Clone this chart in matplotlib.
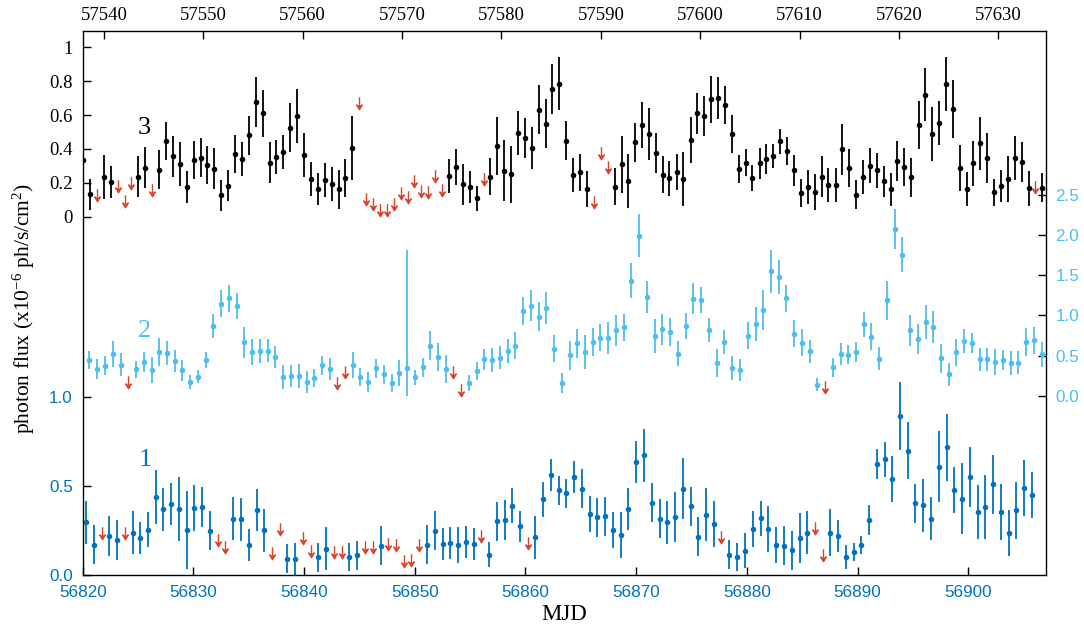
import numpy as np
import matplotlib
matplotlib.use("Agg")
import matplotlib.pyplot as plt
from matplotlib.path import Path

# ---- light curve 1 (bottom, MJD 56820-56907) ----
t1 = [56820.30, 56820.99, 56822.41, 56823.10, 56824.52, 56825.21, 56825.90, 56826.60, 56827.29, 56827.98,
      56828.71, 56829.40, 56830.09, 56830.81, 56831.51, 56833.62, 56834.31, 56835.01, 56835.73, 56836.42,
      56838.50, 56839.20, 56841.30, 56842.00, 56844.10, 56844.80, 56846.91, 56851.10, 56851.79, 56852.51,
      56853.21, 56853.91, 56854.63, 56855.32, 56856.71, 56857.40, 56858.12, 56858.82, 56859.51, 56860.90,
      56861.62, 56862.31, 56863.00, 56863.70, 56864.42, 56865.12, 56865.81, 56866.50, 56867.22, 56867.92,
      56868.61, 56869.30, 56870.02, 56870.72, 56871.41, 56872.11, 56872.80, 56873.53, 56874.21, 56874.92,
      56875.63, 56876.33, 56877.02, 56878.41, 56879.13, 56879.82, 56880.54, 56881.24, 56881.93, 56882.65,
      56883.35, 56884.04, 56884.76, 56885.46, 56887.54, 56888.23, 56888.95, 56889.65, 56890.34, 56891.03,
      56891.73, 56892.45, 56893.14, 56893.84, 56894.53, 56895.23, 56895.95, 56896.64, 56897.36, 56898.06,
      56898.75, 56899.44, 56900.16, 56900.86, 56901.55, 56902.24, 56902.97, 56903.66, 56904.36, 56905.05,
      56905.77]
f1 = [0.296, 0.169, 0.219, 0.197, 0.238, 0.206, 0.255, 0.438, 0.369, 0.399,
      0.369, 0.253, 0.376, 0.382, 0.249, 0.316, 0.313, 0.170, 0.365, 0.251,
      0.092, 0.092, 0.099, 0.148, 0.101, 0.110, 0.165, 0.170, 0.249, 0.172,
      0.178, 0.169, 0.183, 0.172, 0.114, 0.301, 0.309, 0.390, 0.273, 0.212,
      0.425, 0.560, 0.476, 0.459, 0.549, 0.485, 0.343, 0.324, 0.330, 0.253,
      0.223, 0.371, 0.635, 0.672, 0.406, 0.316, 0.296, 0.326, 0.485, 0.386,
      0.215, 0.339, 0.287, 0.114, 0.101, 0.137, 0.257, 0.318, 0.258, 0.167,
      0.165, 0.139, 0.208, 0.238, 0.238, 0.221, 0.101, 0.127, 0.169, 0.307,
      0.622, 0.650, 0.539, 0.892, 0.699, 0.404, 0.392, 0.316, 0.609, 0.717,
      0.476, 0.429, 0.551, 0.354, 0.384, 0.509, 0.354, 0.234, 0.363, 0.489,
      0.449]
e1 = [0.12, 0.11, 0.11, 0.11, 0.12, 0.09, 0.10, 0.15, 0.12, 0.12,
      0.18, 0.22, 0.13, 0.11, 0.11, 0.12, 0.12, 0.09, 0.12, 0.12,
      0.08, 0.09, 0.08, 0.12, 0.08, 0.08, 0.11, 0.11, 0.11, 0.09,
      0.09, 0.10, 0.09, 0.09, 0.07, 0.11, 0.11, 0.10, 0.085, 0.12,
      0.10, 0.09, 0.08, 0.08, 0.09, 0.11, 0.10, 0.11, 0.11, 0.10,
      0.13, 0.12, 0.12, 0.15, 0.11, 0.11, 0.12, 0.14, 0.17, 0.11,
      0.11, 0.15, 0.13, 0.08, 0.08, 0.10, 0.10, 0.10, 0.13, 0.10,
      0.11, 0.11, 0.14, 0.12, 0.13, 0.09, 0.065, 0.05, 0.05, 0.085,
      0.085, 0.10, 0.13, 0.19, 0.16, 0.11, 0.15, 0.12, 0.20, 0.19,
      0.13, 0.20, 0.17, 0.15, 0.18, 0.165, 0.16, 0.13, 0.16, 0.155,
      0.13]
t1_ul = [56821.72, 56823.80, 56832.20, 56832.89, 56837.12, 56837.81, 56839.92, 56840.62, 56842.72, 56843.42,
         56845.52, 56846.22, 56847.60, 56848.30, 56848.99, 56849.68, 56850.38, 56856.01, 56860.20, 56877.71,
         56886.15, 56886.84]
f1_ul = [0.234, 0.238, 0.197, 0.159, 0.122, 0.257, 0.208, 0.137, 0.131, 0.131,
         0.155, 0.155, 0.176, 0.169, 0.077, 0.084, 0.169, 0.217, 0.180, 0.212,
         0.266, 0.110]

# ---- light curve 2 (middle, days from start) ----
t2 = [0.60, 1.32, 2.05, 2.74, 3.44, 4.82, 5.54, 6.24, 6.93, 7.62,
      8.32, 9.01, 9.73, 10.42, 11.12, 11.81, 12.50, 13.20, 13.92, 14.61,
      15.31, 16.03, 16.73, 17.41, 18.11, 18.83, 19.53, 20.22, 20.91, 21.61,
      22.30, 24.38, 25.07, 25.80, 26.49, 27.18, 27.90, 28.60, 29.29, 29.98,
      30.71, 31.40, 32.10, 32.79, 34.90, 35.59, 36.28, 36.98, 37.70, 38.39,
      39.09, 39.78, 40.47, 41.19, 41.89, 42.59, 43.27, 44.00, 44.69, 45.39,
      46.08, 46.77, 47.50, 48.19, 48.88, 49.58, 50.30, 50.99, 51.68, 52.38,
      53.07, 53.80, 54.49, 55.18, 55.88, 56.56, 57.29, 57.98, 58.68, 59.37,
      60.06, 60.79, 61.48, 62.17, 62.87, 63.56, 64.25, 64.97, 65.67, 66.37,
      67.78, 68.47, 69.17, 69.86, 70.55, 71.25, 71.94, 72.63, 73.36, 74.05,
      74.74, 75.44, 76.16, 76.85, 77.54, 78.24, 78.93, 79.66, 80.34, 81.04,
      81.74, 82.46, 83.15, 83.84, 84.54, 85.23, 85.92, 86.65]
f2 = [0.448, 0.332, 0.373, 0.523, 0.386, 0.328, 0.419, 0.320, 0.544, 0.531,
      0.432, 0.316, 0.174, 0.237, 0.440, 0.863, 1.145, 1.212, 1.120, 0.664,
      0.548, 0.560, 0.560, 0.482, 0.229, 0.245, 0.245, 0.170, 0.220, 0.378,
      0.332, 0.386, 0.229, 0.170, 0.340, 0.266, 0.162, 0.282, 0.340, 0.229,
      0.353, 0.623, 0.482, 0.332, 0.158, 0.307, 0.453, 0.440, 0.473, 0.552,
      0.623, 1.054, 1.120, 0.983, 1.091, 0.585, 0.154, 0.502, 0.652, 0.548,
      0.668, 0.722, 0.722, 0.814, 0.851, 1.431, 1.991, 1.232, 0.739, 0.826,
      0.793, 0.523, 0.871, 1.207, 1.191, 0.821, 0.407, 0.672, 0.340, 0.320,
      0.747, 0.896, 1.067, 1.548, 1.473, 1.212, 0.772, 0.660, 0.552, 0.137,
      0.353, 0.515, 0.511, 0.548, 0.888, 0.734, 0.461, 1.187, 2.079, 1.755,
      0.814, 0.706, 0.913, 0.859, 0.465, 0.266, 0.540, 0.681, 0.656, 0.453,
      0.453, 0.415, 0.444, 0.407, 0.411, 0.668, 0.689, 0.515]
e2 = [0.11, 0.12, 0.12, 0.16, 0.14, 0.11, 0.125, 0.16, 0.18, 0.15,
      0.14, 0.13, 0.085, 0.085, 0.10, 0.15, 0.17, 0.17, 0.16, 0.19,
      0.16, 0.15, 0.145, 0.135, 0.15, 0.135, 0.155, 0.14, 0.11, 0.12,
      0.14, 0.16, 0.11, 0.12, 0.12, 0.12, 0.11, 0.16, 1.47, 0.09,
      0.12, 0.18, 0.17, 0.17, 0.10, 0.11, 0.13, 0.15, 0.14, 0.15,
      0.17, 0.175, 0.19, 0.18, 0.195, 0.17, 0.125, 0.18, 0.18, 0.21,
      0.18, 0.17, 0.20, 0.19, 0.17, 0.215, 0.27, 0.20, 0.21, 0.19,
      0.18, 0.155, 0.16, 0.195, 0.165, 0.15, 0.18, 0.15, 0.15, 0.14,
      0.17, 0.21, 0.25, 0.265, 0.21, 0.165, 0.17, 0.17, 0.145, 0.08,
      0.115, 0.135, 0.12, 0.125, 0.155, 0.17, 0.145, 0.24, 0.25, 0.22,
      0.19, 0.19, 0.21, 0.20, 0.18, 0.145, 0.165, 0.155, 0.13, 0.14,
      0.14, 0.16, 0.13, 0.145, 0.14, 0.175, 0.165, 0.155]
t2_ul = [4.12, 22.99, 23.69, 33.48, 34.18, 67.05]
f2_ul = [0.170, 0.162, 0.291, 0.291, 0.071, 0.112]

# ---- light curve 3 (top, MJD 57538-57635) ----
t3 = [57537.89, 57538.59, 57540.00, 57540.68, 57543.45, 57544.16, 57545.54, 57546.24, 57546.94, 57547.65,
      57548.32, 57549.03, 57549.73, 57550.40, 57551.10, 57551.80, 57552.51, 57553.21, 57553.89, 57554.56,
      57555.26, 57555.97, 57556.67, 57557.34, 57558.04, 57558.75, 57559.42, 57560.12, 57560.83, 57561.53,
      57562.24, 57562.91, 57563.62, 57564.28, 57564.98,
      57574.71, 57575.42, 57576.09, 57576.79, 57577.50, 57578.87, 57579.57, 57580.27, 57580.98, 57581.65,
      57582.36, 57583.06, 57583.73, 57584.44, 57585.10, 57585.81, 57586.51, 57587.22, 57587.89, 57588.59,
      57591.38, 57592.09, 57592.75, 57593.45, 57594.16, 57594.83, 57595.53, 57596.24, 57596.91, 57597.62,
      57598.32, 57599.03, 57599.69, 57600.39, 57601.10, 57601.80, 57602.48, 57603.18, 57603.89, 57604.56, 57605.26,
      57605.97, 57606.67, 57607.34, 57608.04, 57608.75, 57609.42, 57610.13, 57610.83, 57611.53, 57612.24,
      57612.91, 57613.62, 57614.32, 57614.99, 57615.69, 57616.40, 57617.10, 57617.77, 57618.48, 57619.18,
      57619.85, 57620.56, 57621.26, 57621.97, 57622.63, 57623.33, 57624.04, 57624.74, 57625.42, 57626.12,
      57626.83, 57627.50, 57628.20, 57628.87, 57629.57, 57630.28, 57630.98, 57631.65, 57632.36, 57633.06, 57634.44]
f3 = [0.335, 0.132, 0.232, 0.207, 0.236, 0.289, 0.276, 0.447, 0.357, 0.313,
      0.175, 0.335, 0.348, 0.305, 0.283, 0.126, 0.183, 0.370, 0.341, 0.480,
      0.677, 0.610, 0.319, 0.352, 0.384, 0.525, 0.594, 0.366, 0.221, 0.165,
      0.215, 0.191, 0.162, 0.228, 0.407,
      0.242, 0.295, 0.191, 0.173, 0.108, 0.236, 0.416, 0.270, 0.250, 0.494,
      0.465, 0.406, 0.632, 0.549, 0.756, 0.785, 0.449, 0.244, 0.262, 0.165,
      0.177, 0.309, 0.213, 0.439, 0.541, 0.488, 0.378, 0.248, 0.227, 0.262,
      0.223, 0.453, 0.610, 0.594, 0.693, 0.702, 0.659, 0.488, 0.282, 0.319, 0.230,
      0.315, 0.341, 0.357, 0.445, 0.388, 0.274, 0.142, 0.177, 0.146, 0.236,
      0.187, 0.187, 0.398, 0.287, 0.130, 0.232, 0.301, 0.274, 0.209, 0.163,
      0.327, 0.295, 0.232, 0.541, 0.720, 0.488, 0.551, 0.783, 0.636, 0.287,
      0.165, 0.315, 0.433, 0.347, 0.144, 0.183, 0.221, 0.347, 0.323, 0.168, 0.171]
e3 = [0.11, 0.09, 0.13, 0.095, 0.12, 0.12, 0.115, 0.113, 0.12, 0.13,
      0.095, 0.11, 0.115, 0.11, 0.12, 0.09, 0.09, 0.11, 0.10, 0.115,
      0.15, 0.14, 0.12, 0.10, 0.10, 0.145, 0.16, 0.13, 0.10, 0.095,
      0.10, 0.10, 0.115, 0.11, 0.19,
      0.10, 0.105, 0.12, 0.095, 0.075, 0.11, 0.17, 0.18, 0.17, 0.13,
      0.12, 0.125, 0.145, 0.145, 0.147, 0.157, 0.116, 0.10, 0.11, 0.106,
      0.11, 0.167, 0.16, 0.115, 0.136, 0.155, 0.118, 0.108, 0.104, 0.106,
      0.16, 0.135, 0.12, 0.117, 0.14, 0.123, 0.112, 0.11, 0.085, 0.08, 0.077,
      0.09, 0.088, 0.07, 0.074, 0.08, 0.09, 0.083, 0.10, 0.105, 0.12,
      0.10, 0.10, 0.15, 0.11, 0.084, 0.10, 0.105, 0.104, 0.09, 0.097,
      0.117, 0.113, 0.113, 0.14, 0.155, 0.157, 0.13, 0.16, 0.17, 0.134,
      0.10, 0.134, 0.155, 0.147, 0.08, 0.095, 0.136, 0.129, 0.118, 0.103, 0.086]
t3_ul = [57539.30, 57541.38, 57542.09, 57542.75, 57544.86, 57565.69, 57566.36, 57567.06, 57567.74, 57568.44,
         57569.15, 57569.85, 57570.55, 57571.22, 57571.92, 57572.63, 57573.33, 57574.01, 57578.20, 57589.30,
         57589.97, 57590.68, 57633.73]
f3_ul = [0.128, 0.183, 0.094, 0.197, 0.156, 0.673, 0.103, 0.075, 0.040, 0.040,
         0.075, 0.142, 0.115, 0.213, 0.153, 0.148, 0.240, 0.158, 0.223, 0.089,
         0.374, 0.295, 0.177]

# ticks
ticks1_x = [56820, 56830, 56840, 56850, 56860, 56870, 56880, 56890, 56900]
ticks3_x = [57540, 57550, 57560, 57570, 57580, 57590, 57600, 57610, 57620, 57630]
ticks1_y = [0.0, 0.5, 1.0]
ticks2_y = [0.0, 0.5, 1.0, 1.5, 2.0, 2.5]
ticks3_y = [0, 0.2, 0.4, 0.6, 0.8, 1]

BLUE = "#0072BD"
CYAN = "#4DBEEE"
RED = "#D8432A"
SERIF = "Liberation Serif"
SANS = "Liberation Sans"

plt.rcParams["mathtext.fontset"] = "custom"
plt.rcParams["mathtext.rm"] = SERIF
plt.rcParams["mathtext.it"] = SERIF + ":italic"

# down arrow marker for upper limits
arrow = Path([(0, 0.5), (0, -0.3), (-0.22, -0.12), (0, -0.5), (0.22, -0.12), (0, -0.3), (0, -0.3)],
             [Path.MOVETO, Path.LINETO, Path.MOVETO, Path.LINETO, Path.LINETO, Path.LINETO, Path.CLOSEPOLY])

fig = plt.figure(figsize=(10.84, 6.25), dpi=100)
rect = [82.7 / 1084, 1 - 575 / 625, 963 / 1084, 544 / 625]


def draw_curve(ax, t, f, lo, hi, tu, fu, color):
    ax.errorbar(t, f, yerr=[lo, hi], fmt="o", ms=4, mew=0, color=color,
                ecolor=color, elinewidth=1.3, capsize=0)
    ax.plot(tu, fu, ls="none", marker=arrow, ms=9, mew=1.0, color=RED,
            mfc=RED, mec=RED)


# bottom curve, left/bottom axes
ax1 = fig.add_axes(rect)
ax1.set_xlim(56820, 56907)
ax1.set_ylim(0, 544 / 178)
draw_curve(ax1, t1, f1, e1, e1, t1_ul, f1_ul, BLUE)
ax1.set_xticks(ticks1_x, labels=[str(v) for v in ticks1_x], fontfamily=SANS,
               fontsize=12.3, color=BLUE)
ax1.set_yticks(ticks1_y, labels=[f"{v:.1f}" for v in ticks1_y], fontfamily=SANS,
               fontsize=12.3, color=BLUE)
ax1.tick_params(direction="in", length=6, width=1, top=False, right=False)
ax1.tick_params(axis="x", pad=7)
ax1.tick_params(axis="y", pad=7)
for sp in ax1.spines.values():
    sp.set_linewidth(1.0)
ax1.set_xlabel("MJD", fontfamily=SERIF, fontsize=16.5, labelpad=3)
ax1.set_ylabel(r"photon flux (x10$^{-6}$ ph/s/cm$^2$)", fontfamily=SERIF, fontsize=15.5)
ax1.yaxis.set_label_coords(-0.047, 0.49)
ax1.text(56825.63, 0.646, "1", color=BLUE, fontfamily=SERIF, fontsize=19,
         ha="center", va="center")

# middle curve, right axis
ax2 = fig.add_axes(rect, frameon=False)
ax2.set_xlim(0, 87)
ax2.set_ylim(-(575 - 395.7) / 80.35, (395.7 - 31) / 80.35)
lo2 = np.minimum(np.array(e2), np.array(f2))
draw_curve(ax2, t2, f2, lo2, e2, t2_ul, f2_ul, CYAN)
ax2.xaxis.set_visible(False)
ax2.yaxis.tick_right()
ax2.set_yticks(ticks2_y, labels=[f"{v:.1f}" for v in ticks2_y], fontfamily=SANS,
               fontsize=12.3, color=CYAN)
ax2.tick_params(axis="y", direction="in", length=6, width=1, pad=7)
ax2.text(5.57, 0.80, "2", color=CYAN, fontfamily=SERIF, fontsize=19,
         ha="center", va="center")

# top curve, left/top axes
ax3 = fig.add_axes(rect, frameon=False)
ax3.set_xlim(57537.86, 57634.77)
ax3.set_ylim(-(575 - 216.7) / 169.4, (216.7 - 31) / 169.4)
draw_curve(ax3, t3, f3, e3, e3, t3_ul, f3_ul, "black")
ax3.xaxis.tick_top()
ax3.set_xticks(ticks3_x, labels=[str(v) for v in ticks3_x], fontfamily=SERIF,
               fontsize=13.5)
ax3.set_yticks(ticks3_y, labels=[f"{v:g}" for v in ticks3_y], fontfamily=SERIF,
               fontsize=13.5)
ax3.tick_params(direction="in", length=6, width=1)
ax3.tick_params(axis="x", pad=5)
ax3.tick_params(axis="y", pad=7)
ax3.text(57544.06, 0.522, "3", color="black", fontfamily=SERIF, fontsize=19,
         ha="center", va="center")

fig.savefig("out.png", dpi=100)
